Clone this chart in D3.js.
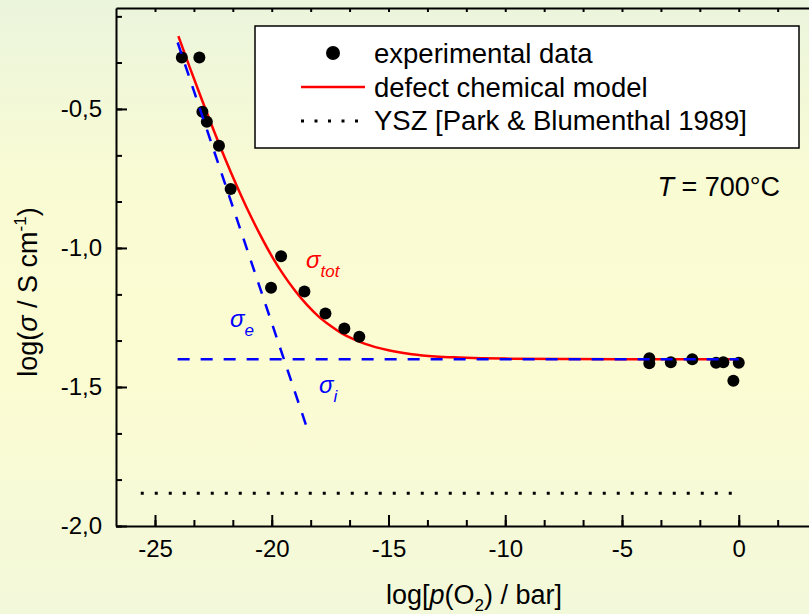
<!DOCTYPE html>
<html>
<head>
<meta charset="utf-8">
<script src="https://cdn.jsdelivr.net/npm/d3@7"></script>
<style>
  body { margin: 0; overflow: hidden; }
  text { font-family: Arial, "Liberation Sans", sans-serif; }
</style>
</head>
<body>
<div class="chart"></div>
<script>
// measured points, log(pO2) vs log(sigma)
const expX = [-23.85, -23.10, -22.97, -22.78, -22.26, -21.76, -20.03, -19.60, -18.60, -17.70, -16.89, -16.25,
              -3.83, -3.83, -2.91, -1.99, -0.97, -0.66, 0.00, -0.23];
const expY = [-0.315, -0.315, -0.510, -0.546, -0.632, -0.788, -1.143, -1.030, -1.157, -1.236, -1.290, -1.319,
              -1.397, -1.415, -1.411, -1.400, -1.413, -1.411, -1.413, -1.478];

// red model curve
const modelX = [-24.0, -23.5, -23.0, -22.5, -22.0, -21.5, -21.0, -20.5, -20.0, -19.5, -19.0, -18.5, -18.0,
                -17.5, -17.0, -16.5, -16.0, -15.0, -14.0, -13.0, -12.0, -10.0, -5.0, 0.0];
const modelY = [-0.238, -0.353, -0.465, -0.574, -0.678, -0.776, -0.868, -0.952, -1.029, -1.096, -1.154, -1.204, -1.246,
                -1.279, -1.307, -1.328, -1.345, -1.368, -1.382, -1.390, -1.394, -1.398, -1.400, -1.400];

// blue partial conductivities
const sigEX = [-24.03, -18.50];
const sigEY = [-0.261, -1.645];
const sigIX = [-24.03, 0.0];
const sigIY = [-1.400, -1.400];

// YSZ reference
const yszX = [-25.61, 0.0];
const yszY = [-1.882, -1.882];

const xMajor = [-25, -20, -15, -10, -5, 0];
const xMinor = [-25, -23.333, -21.667, -20, -18.333, -16.667, -15, -13.333, -11.667, -10, -8.333, -6.667, -5, -3.333, -1.667, 0, 1.667];
const yMajor = [-2.0, -1.5, -1.0, -0.5];
const yMinor = [-2.0, -1.833, -1.667, -1.5, -1.333, -1.167, -1.0, -0.833, -0.667, -0.5, -0.333, -0.167];

const legendLabels = ['experimental data', 'defect chemical model', 'YSZ [Park & Blumenthal 1989]'];

var width = 809,
    height = 614;

var svg = d3.select('.chart')
  .append('svg')
  .attr('width', width)
  .attr('height', height);

var grad = svg.append('defs').append('linearGradient')
  .attr('id', 'bg')
  .attr('x1', 0).attr('y1', 0).attr('x2', 0).attr('y2', 1);
[[0, '#ebf5dd'], [0.3, '#f9fbd3'], [0.6, '#fcfcd2'], [1, '#f2f8da']].forEach(d => {
  grad.append('stop').attr('offset', d[0]).attr('stop-color', d[1]);
});

svg.append('rect')
  .attr('width', width)
  .attr('height', height)
  .attr('fill', 'url(#bg)');

const x = d3.scaleLinear().domain([-26.67, 3.33]).range([116, 816.5]);
const y = d3.scaleLinear().domain([-2.0, -0.137]).range([526, 8]);

const fmtY = d => d3.format('.1f')(d).replace('.', ',').replace('−', '-');

// bottom axis
svg.append('g')
  .attr('transform', 'translate(0,526)')
  .call(d3.axisBottom(x).tickValues(xMinor).tickSize(-6).tickFormat(''))
  .call(g => g.select('.domain').remove());

svg.append('g')
  .attr('class', 'x-axis')
  .attr('transform', 'translate(0,526)')
  .call(d3.axisBottom(x).tickValues(xMajor).tickSizeInner(-11).tickSizeOuter(0).tickPadding(14)
    .tickFormat(d => String(d)))
  .call(g => g.selectAll('text').attr('font-size', 24).attr('fill', '#000').attr('font-family', null));

// top axis
svg.append('g')
  .attr('transform', 'translate(0,8)')
  .call(d3.axisTop(x).tickValues(xMinor).tickSizeInner(-4).tickSizeOuter(0).tickFormat(''));

// left axis
svg.append('g')
  .attr('transform', 'translate(116,0)')
  .call(d3.axisLeft(y).tickValues(yMinor).tickSize(-6).tickFormat(''))
  .call(g => g.select('.domain').remove());

svg.append('g')
  .attr('transform', 'translate(116,0)')
  .call(d3.axisLeft(y).tickValues(yMajor).tickSizeInner(-11).tickSizeOuter(0).tickPadding(14)
    .tickFormat(fmtY))
  .call(g => g.selectAll('text').attr('font-size', 24).attr('fill', '#000').attr('font-family', null));

svg.selectAll('.domain, .tick line').attr('stroke', '#000').attr('stroke-width', 2);

// series
const line = d3.line().x(d => x(d[0])).y(d => y(d[1]));

svg.append('path')
  .datum(yszX.map((v, i) => [v, yszY[i]]))
  .attr('d', line)
  .attr('fill', 'none')
  .attr('stroke', '#000')
  .attr('stroke-width', 3)
  .attr('stroke-dasharray', '3,11');

svg.append('path')
  .datum(modelX.map((v, i) => [v, modelY[i]]))
  .attr('d', d3.line().curve(d3.curveMonotoneX).x(d => x(d[0])).y(d => y(d[1])))
  .attr('fill', 'none')
  .attr('stroke', '#ff0000')
  .attr('stroke-width', 2.5);

svg.append('g')
  .selectAll('circle')
  .data(expX.map((v, i) => [v, expY[i]]))
  .enter()
  .append('circle')
  .attr('cx', d => x(d[0]))
  .attr('cy', d => y(d[1]))
  .attr('r', 6)
  .attr('fill', '#000');

// blue dashed partials sit on top
[[sigIX, sigIY], [sigEX, sigEY]].forEach(s => {
  svg.append('path')
    .datum(s[0].map((v, i) => [v, s[1][i]]))
    .attr('d', line)
    .attr('fill', 'none')
    .attr('stroke', '#0000ff')
    .attr('stroke-width', 2.5)
    .attr('stroke-dasharray', '12,11');
});

// sigma labels
const sigLabel = (px, py, sub, color) => {
  const t = svg.append('text')
    .attr('x', px).attr('y', py)
    .attr('fill', color)
    .attr('font-size', 24);
  t.append('tspan').attr('font-style', 'italic').text('σ');
  t.append('tspan').attr('font-style', 'italic').attr('font-size', 17).attr('dy', 9).text(sub);
};
sigLabel(306, 268, 'tot', '#ff0000');
sigLabel(230, 327, 'e', '#0000ff');
sigLabel(319, 393, 'i', '#0000ff');

// legend
const lg = svg.append('g');
lg.append('rect')
  .attr('x', 255).attr('y', 26)
  .attr('width', 544).attr('height', 122)
  .attr('fill', '#fff')
  .attr('stroke', '#000')
  .attr('stroke-width', 1.5);

lg.append('circle').attr('cx', 333).attr('cy', 53).attr('r', 7).attr('fill', '#000');
lg.append('line').attr('x1', 301).attr('x2', 365).attr('y1', 87).attr('y2', 87)
  .attr('stroke', '#ff0000').attr('stroke-width', 2.5);
lg.append('line').attr('x1', 301).attr('x2', 366).attr('y1', 121).attr('y2', 121)
  .attr('stroke', '#000').attr('stroke-width', 3).attr('stroke-dasharray', '3,10.5');

lg.selectAll('text.leg')
  .data(legendLabels)
  .enter()
  .append('text')
  .attr('class', 'leg')
  .attr('x', 374)
  .attr('y', (d, i) => 63 + i * 33.5)
  .attr('font-size', 27.5)
  .text(d => d);

// temperature
const tt = svg.append('text')
  .attr('x', 780).attr('y', 196)
  .attr('text-anchor', 'end')
  .attr('font-size', 27);
tt.append('tspan').attr('font-style', 'italic').text('T');
tt.append('tspan').text(' = 700°C');

// axis titles
const xt = svg.append('text')
  .attr('x', 474).attr('y', 604)
  .attr('text-anchor', 'middle')
  .attr('font-size', 27);
xt.append('tspan').text('log[');
xt.append('tspan').attr('font-style', 'italic').text('p');
xt.append('tspan').text('(O');
xt.append('tspan').attr('font-size', 17).attr('dy', 7).text('2');
xt.append('tspan').attr('dy', -7).text(') / bar]');

const yt = svg.append('text')
  .attr('transform', 'translate(37,292) rotate(-90)')
  .attr('text-anchor', 'middle')
  .attr('font-size', 27);
yt.append('tspan').text('log(');
yt.append('tspan').attr('font-style', 'italic').text('σ');
yt.append('tspan').text(' / S cm');
yt.append('tspan').attr('font-size', 17).attr('dy', -11).text('-1');
yt.append('tspan').attr('dy', 11).text(')');
</script>
</body>
</html>
